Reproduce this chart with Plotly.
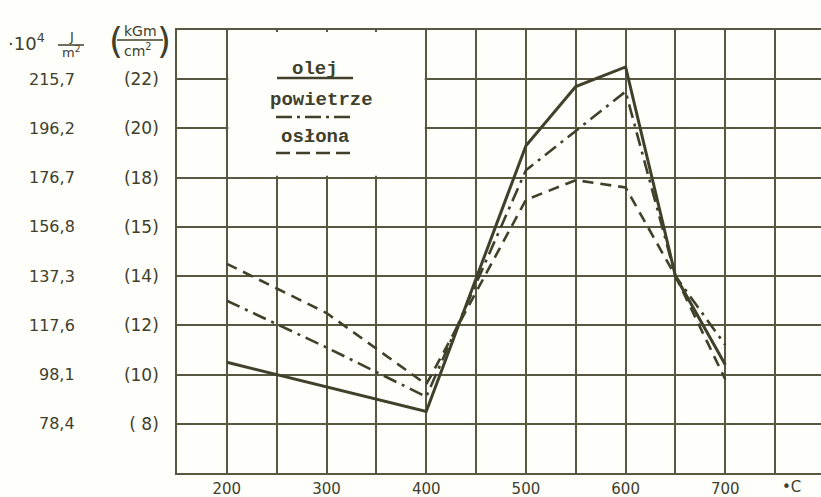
import plotly.graph_objects as go

# ---- data ----
temps = [200, 300, 400, 500, 550, 600, 650, 700]
olej = [10.5, 9.5, 8.5, 19.3, 21.7, 22.5, 14.0, 10.4]
powietrze = [13.0, 11.1, 9.1, 18.3, 19.9, 21.5, 14.0, 11.2]
oslona = [14.5, 12.5, 9.6, 17.1, 17.9, 17.6, 14.0, 9.8]

x_ticks = [200, 300, 400, 500, 600, 700]
x_tick_labels = ["200", "300", "400", "500", "600", "700"]
x_minor_grid = [150, 250, 350, 450, 550, 650, 750]
y_tick_vals = [22, 20, 18, 16, 14, 12, 10, 8]
y_inner_labels = ["(22)", "(20)", "(18)", "(15)", "(14)", "(12)", "(10)", "( 8)"]
y_outer_labels = ["215,7", "196,2", "176,7", "156,8", "137,3", "117,6", "98,1", "78,4"]
y_minor_grid = [6, 24]

INK = "#40402b"
GRID = "#57574263"
GRID = "#575742"
W, H = 821, 497
L, R, T, B = 177, 0, 30, 24
PW, PH = W - L - R, H - T - B


def px(x):
    return (x - L) / PW


def py(y):
    return (H - B - y) / PH


fig = go.Figure()

fig.add_trace(go.Scatter(x=temps, y=oslona, mode="lines", name="osłona",
                         line=dict(color=INK, width=2.6, dash="11px,7px")))
fig.add_trace(go.Scatter(x=temps, y=powietrze, mode="lines", name="powietrze",
                         line=dict(color=INK, width=2.6, dash="14px,6px,3px,6px")))
fig.add_trace(go.Scatter(x=temps, y=olej, mode="lines", name="olej",
                         line=dict(color=INK, width=3)))

shapes = []
# white legend box covering grid
shapes.append(dict(type="rect", xref="x", yref="y", x0=201.5, x1=398.5, y0=18.08, y1=23.92,
                   fillcolor="#fefefb", line=dict(width=0), layer="above"))
# legend sample lines
shapes.append(dict(type="line", xref="paper", yref="paper", x0=px(277), x1=px(353), y0=py(78), y1=py(78),
                   line=dict(color=INK, width=2.5)))
shapes.append(dict(type="line", xref="paper", yref="paper", x0=px(276), x1=px(353), y0=py(117), y1=py(117),
                   line=dict(color=INK, width=2.5, dash="16px,5px,3px,5px")))
shapes.append(dict(type="line", xref="paper", yref="paper", x0=px(276), x1=px(353), y0=py(153), y1=py(153),
                   line=dict(color=INK, width=2.5, dash="14px,6px")))
# fraction bars in header
shapes.append(dict(type="line", xref="paper", yref="paper", x0=px(58), x1=px(84), y0=py(45), y1=py(45),
                   line=dict(color=INK, width=1.5)))
shapes.append(dict(type="line", xref="paper", yref="paper", x0=px(117), x1=px(163), y0=py(40), y1=py(40),
                   line=dict(color=INK, width=1.5)))

annotations = []
TXT = dict(family="DejaVu Sans", size=16, color=INK)
for v, lab in zip(y_tick_vals, y_outer_labels):
    annotations.append(dict(x=px(77), y=v, xref="paper", yref="y", text=lab, showarrow=False,
                            xanchor="right", yanchor="middle", font=TXT))
# x unit
annotations.append(dict(x=px(791), y=py(487), xref="paper", yref="paper", text="•C", showarrow=False,
                        xanchor="center", yanchor="middle", font=dict(family="DejaVu Sans", size=15, color=INK)))
# header left
annotations.append(dict(x=px(6), y=py(42), xref="paper", yref="paper", text="·10<sup>4</sup>", showarrow=False,
                        xanchor="left", yanchor="middle", font=dict(family="DejaVu Sans", size=18, color=INK)))
annotations.append(dict(x=px(71), y=py(36), xref="paper", yref="paper", text="J", showarrow=False,
                        xanchor="center", yanchor="middle", font=dict(family="DejaVu Sans", size=13, color=INK)))
annotations.append(dict(x=px(71), y=py(52), xref="paper", yref="paper", text="m<sup>2</sup>", showarrow=False,
                        xanchor="center", yanchor="middle", font=dict(family="DejaVu Sans", size=13, color=INK)))
# header right
annotations.append(dict(x=px(116), y=py(40), xref="paper", yref="paper", text="(", showarrow=False,
                        xanchor="center", yanchor="middle", font=dict(family="DejaVu Sans", size=36, color=INK)))
annotations.append(dict(x=px(164), y=py(40), xref="paper", yref="paper", text=")", showarrow=False,
                        xanchor="center", yanchor="middle", font=dict(family="DejaVu Sans", size=36, color=INK)))
annotations.append(dict(x=px(140), y=py(31), xref="paper", yref="paper", text="kGm", showarrow=False,
                        xanchor="center", yanchor="middle", font=dict(family="DejaVu Sans", size=14, color=INK)))
annotations.append(dict(x=px(138), y=py(50), xref="paper", yref="paper", text="cm<sup>2</sup>", showarrow=False,
                        xanchor="center", yanchor="middle", font=dict(family="DejaVu Sans", size=14, color=INK)))
# legend text
MONO = dict(family="Liberation Mono", size=19, color=INK)
annotations.append(dict(x=px(315), y=py(69), xref="paper", yref="paper", text="<b>olej</b>", showarrow=False,
                        xanchor="center", yanchor="middle", font=MONO))
annotations.append(dict(x=px(321), y=py(100), xref="paper", yref="paper", text="<b>powietrze</b>", showarrow=False,
                        xanchor="center", yanchor="middle", font=MONO))
annotations.append(dict(x=px(315), y=py(137), xref="paper", yref="paper", text="<b>osłona</b>", showarrow=False,
                        xanchor="center", yanchor="middle", font=MONO))

fig.update_layout(
    width=W, height=H,
    margin=dict(l=L, r=R, t=T, b=B, autoexpand=False),
    paper_bgcolor="#fefefb", plot_bgcolor="#fefefb",
    showlegend=False,
    shapes=shapes,
    annotations=annotations,
    xaxis=dict(range=[150, 796], tickvals=x_ticks, ticktext=x_tick_labels,
               showgrid=True, gridcolor=GRID, gridwidth=1.6,
               minor=dict(tickvals=x_minor_grid, showgrid=True, gridcolor=GRID, gridwidth=1.6, ticks=""),
               showline=True, linecolor=GRID, linewidth=1.6, mirror=True,
               ticks="", zeroline=False, ticklabelstandoff=1,
               tickfont=dict(family="DejaVu Sans", size=15, color=INK)),
    yaxis=dict(range=[6, 24], tickvals=y_tick_vals, ticktext=y_inner_labels,
               showgrid=True, gridcolor=GRID, gridwidth=1.6,
               minor=dict(tickvals=y_minor_grid, showgrid=True, gridcolor=GRID, gridwidth=1.6, ticks=""),
               showline=True, linecolor=GRID, linewidth=1.6, mirror=False,
               ticks="", zeroline=False, ticklabelstandoff=13,
               tickfont=dict(family="DejaVu Sans", size=17, color=INK)),
)

fig.write_html("out.html", config={"displayModeBar": False},
               post_script="document.body.style.margin='0';document.body.style.overflow='hidden';")
